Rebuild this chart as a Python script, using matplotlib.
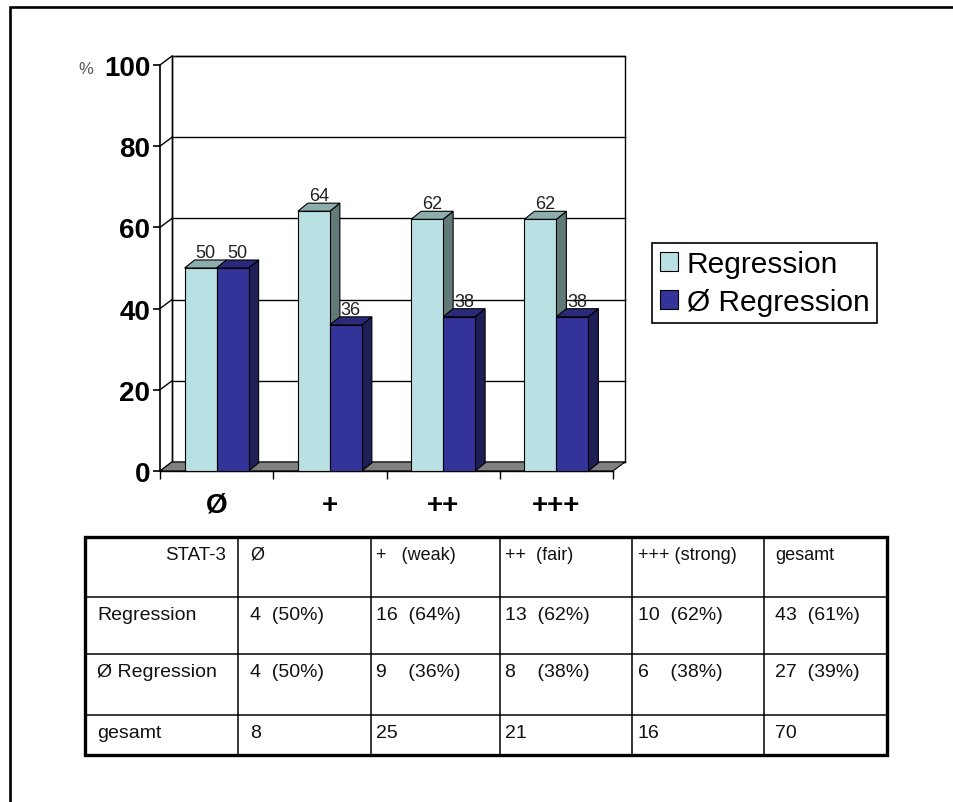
import matplotlib
matplotlib.use("Agg")
import matplotlib.pyplot as plt
from matplotlib.patches import Polygon, Rectangle
import numpy as np

# ---- data -------------------------------------------------------------
categories = ["Ø", "+", "++", "+++"]
series_names = ["Regression", "Ø Regression"]
regression = [50, 64, 62, 62]
no_regression = [50, 36, 38, 38]
y_ticks = [0, 20, 40, 60, 80, 100]

table_header = ["STAT-3", "Ø", "+   (weak)", "++  (fair)", "+++ (strong)", "gesamt"]
table_rows = [
    ["Regression", "4  (50%)", "16  (64%)", "13  (62%)", "10  (62%)", "43  (61%)"],
    ["Ø Regression", "4  (50%)", "9    (36%)", "8    (38%)", "6    (38%)", "27  (39%)"],
    ["gesamt", "8", "25", "21", "16", "70"],
]

# ---- styling ----------------------------------------------------------
FONT = ["Liberation Sans", "DejaVu Sans"]
plt.rcParams["font.family"] = FONT

light_front, light_side, light_top = "#B9E0E3", "#617A78", "#8DADAC"
dark_front, dark_side, dark_top = "#333399", "#1F1F58", "#2A2A7C"
floor_color = "#808080"

W, H = 954, 803
fig = plt.figure(figsize=(W / 100, H / 100), dpi=100)

# pixel-space overlay for frame, table and loose text
ov = fig.add_axes([0, 0, 1, 1], zorder=0)
ov.set_xlim(0, W)
ov.set_ylim(H, 0)
ov.axis("off")

# ---- chart axes (front plane) ----------------------------------------
x0_px, x1_px, y0_px, y1_px = 160, 613, 472, 66
ax = fig.add_axes([x0_px / W, 1 - y0_px / H, (x1_px - x0_px) / W, (y0_px - y1_px) / H], zorder=2)
ax.set_xlim(-0.5, len(categories) - 0.5)
ax.set_ylim(0, 100)
ax.patch.set_alpha(0)

px_x = ax.bbox.width / (len(categories))      # pixels per category unit
px_y = ax.bbox.height / 100.0                 # pixels per percent

# depth offsets (in data units) for walls and bars
wdx, wdy = 12 / px_x, 9 / px_y
bdx, bdy = 10 / px_x, 8 / px_y
bar_w = 32 / px_x

xl, xr = -0.5, len(categories) - 0.5

# back wall with gridlines
ax.add_patch(Rectangle((xl + wdx, wdy), xr - xl, 100, facecolor="white",
                       edgecolor="black", lw=1.0, clip_on=False, zorder=1))
for t in y_ticks:
    ax.plot([xl + wdx, xr + wdx], [t + wdy, t + wdy], color="black", lw=1.0,
            clip_on=False, zorder=1.1)
    ax.plot([xl, xl + wdx], [t, t + wdy], color="black", lw=1.0,
            clip_on=False, zorder=1.1)
ax.plot([xl + wdx, xl + wdx], [wdy, 100 + wdy], color="black", lw=1.0, clip_on=False, zorder=1.1)

# floor
ax.add_patch(Polygon([(xl, 0), (xr, 0), (xr + wdx, wdy), (xl + wdx, wdy)], closed=True,
                     facecolor=floor_color, edgecolor="black", lw=0.8, clip_on=False, zorder=1.2))

# bars with side and top faces
x = np.arange(len(categories))
handles = []
for k, (vals, off, fc, sc, tc) in enumerate([
    (regression, -bar_w / 2, light_front, light_side, light_top),
    (no_regression, bar_w / 2, dark_front, dark_side, dark_top),
]):
    base_z = 3 + k * 0.5
    bars = ax.bar(x + off, vals, width=bar_w, color=fc, edgecolor="black", lw=0.8,
                  zorder=base_z + 0.1, clip_on=False)
    handles.append(bars)
    for xi, v in zip(x + off, vals):
        a, b = xi - bar_w / 2, xi + bar_w / 2
        ax.add_patch(Polygon([(b, 0), (b, v), (b + bdx, v + bdy), (b + bdx, bdy)], closed=True,
                             facecolor=sc, edgecolor="black", lw=0.8, zorder=base_z, clip_on=False))
        ax.add_patch(Polygon([(a, v), (b, v), (b + bdx, v + bdy), (a + bdx, v + bdy)], closed=True,
                             facecolor=tc, edgecolor="black", lw=0.8, zorder=base_z + 0.2,
                             clip_on=False))
        ax.text(xi + bdx / 2, v + bdy - 0.3, f"{v}", ha="center", va="bottom", fontsize=13,
                family=["Liberation Sans Narrow", "Liberation Sans"], color="#222222",
                zorder=6)

for sp in ["top", "right"]:
    ax.spines[sp].set_visible(False)
ax.spines["left"].set_linewidth(1.2)
ax.spines["bottom"].set_linewidth(1.0)
ax.spines["left"].set_zorder(5)

ax.set_yticks(y_ticks)
ax.set_yticklabels([str(t) for t in y_ticks], fontsize=20, fontweight="bold")
ax.tick_params(axis="y", length=5, width=1.2, pad=2)

ax.set_xticks(x)
ax.set_xticklabels(categories, fontsize=20, fontweight="bold")
ax.tick_params(axis="x", which="major", length=0, pad=15)
ax.set_xticks(np.arange(-0.5, len(categories)), minor=True)
ax.tick_params(axis="x", which="minor", length=6, width=1.0)

ov.text(93, 70, "%", ha="right", va="center", fontsize=12, color="#555555")

# legend
leg = fig.legend([h.patches[0] for h in handles], series_names, loc="center",
                 bbox_to_anchor=(764.5 / W, 1 - 284 / H), fontsize=21.5,
                 frameon=True, fancybox=False, edgecolor="black", framealpha=1,
                 handlelength=0.6, handleheight=0.6, handletextpad=0.3,
                 borderpad=0.25, labelspacing=0.32, borderaxespad=0)
leg.get_frame().set_linewidth(1.2)

# ---- outer frame ------------------------------------------------------
ov.plot([10, 10, W + 5], [H + 5, 8, 8], color="black", lw=1.9, solid_joinstyle="miter",
        clip_on=False)

# ---- table ------------------------------------------------------------
col_edges = [85, 238, 371, 500, 632, 764, 887]
row_edges = [538, 598, 655, 716, 756]
text_x = [97, 250, 376, 505, 638, 775]

for xe in col_edges[1:-1]:
    ov.plot([xe, xe], [row_edges[0], row_edges[-1]], color="black", lw=1.1)
for ye in row_edges[1:-1]:
    ov.plot([col_edges[0], col_edges[-1]], [ye, ye], color="black", lw=1.1)
ov.add_patch(Rectangle((col_edges[0], row_edges[0]), col_edges[-1] - col_edges[0],
                       row_edges[-1] - row_edges[0], fill=False, edgecolor="black", lw=2.4))

all_rows = [table_header] + table_rows
for r, row in enumerate(all_rows):
    top = row_edges[r] + 9
    for c, txt in enumerate(row):
        if r == 0 and c == 0:
            ov.text(226, top, txt, ha="right", va="top", fontsize=13.5, color="#111111")
        else:
            size = 13 if r == 0 else 14
            ov.text(text_x[c], top, txt, ha="left", va="top", fontsize=size, color="#111111")

fig.savefig("out.png", dpi=100)
